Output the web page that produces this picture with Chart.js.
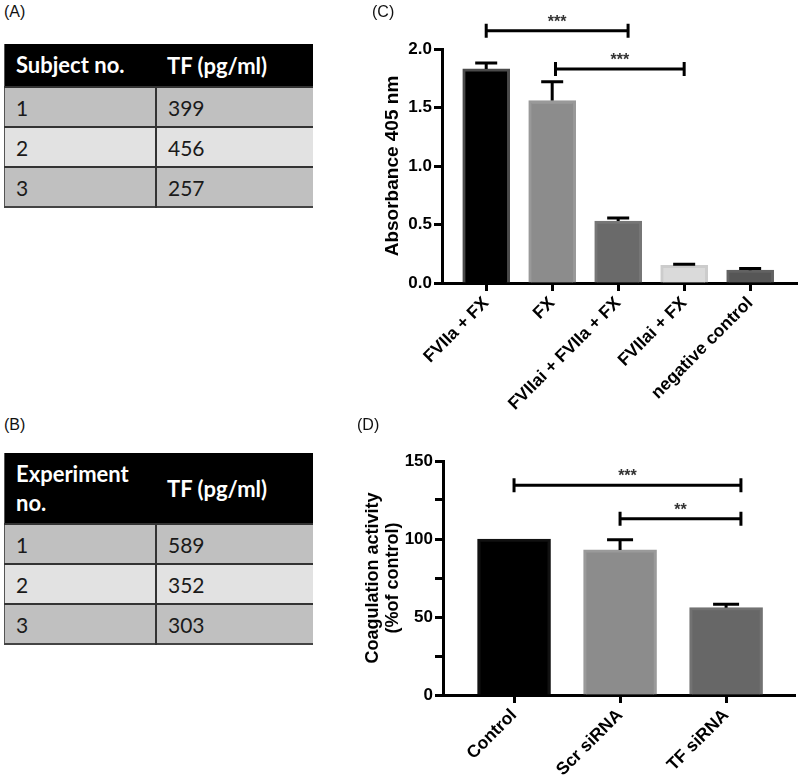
<!DOCTYPE html>
<html lang="en">
<head>
<meta charset="UTF-8">
<title>TF activity panels</title>
<script src="https://cdn.jsdelivr.net/npm/chart.js"></script>
<style>
    body { margin: 0; background: #fff; }
    #page { position: relative; width: 800px; height: 779px; overflow: hidden; font-family: "Liberation Sans", Arial, sans-serif; }
    .panel { position: absolute; font-size: 16px; color: #111; z-index: 2; }
    canvas { position: absolute; }
    table.tf { position: absolute; border-collapse: collapse; font-family: Lato, "Open Sans", sans-serif; font-size: 21px; color: #1a1a1a; border-left: 1px solid #555; border-bottom: 2px solid #444; }
    table.tf th { background: #000; color: #fff; font-weight: 700; font-size: 22px; text-align: left; padding: 0 0 0 11px; }
    table.tf td { padding: 0 0 0 11px; border-top: 2px solid #333; height: 38px; }
    table.tf td:first-child { border-right: 2px solid #333; }
    table.tf tr.light td { background: #e2e2e2; }
    table.tf tr.dark td { background: #c0c0c0; }
</style>
</head>
<body>
<div id="page">
    <div class="panel" style="left:4px;top:3px">(A)</div>
    <div class="panel" style="left:4px;top:416px">(B)</div>
    <div class="panel" style="left:372px;top:3px">(C)</div>
    <div class="panel" style="left:357px;top:416px">(D)</div>

    <table class="tf" id="tableA" style="left:4px;top:44px;width:309px"></table>
    <table class="tf" id="tableB" style="left:4px;top:453px;width:309px"></table>

    <canvas id="chartC" width="430" height="420" style="left:370px;top:0"></canvas>
    <canvas id="chartD" width="445" height="339" style="left:355px;top:440px"></canvas>
</div>
<script>
    // table data
    const subjectNo = ['1', '2', '3'];
    const subjectTF = [399, 456, 257];
    const experimentNo = ['1', '2', '3'];
    const experimentTF = [589, 352, 303];

    // panel C: chromogenic FXa assay
    const assayLabels = ['FVIIa + FX', 'FX', 'FVIIai + FVIIa + FX', 'FVIIai + FX', 'negative control'];
    const assayMeans = [1.83, 1.56, 0.53, 0.15, 0.11];
    const assayErrors = [0.05, 0.16, 0.025, 0.01, 0.015];
    const assaySig = [[0, 2.15, 2.156, '***'], [1.05, 3, 1.83, '***']];

    // panel D: coagulation activity
    const coagLabels = ['Control', 'Scr siRNA', 'TF siRNA'];
    const coagMeans = [100, 93, 56];
    const coagErrors = [0, 6.5, 2.2];
    const coagSig = [[0, 2.14, 134.5, '***'], [1, 2.14, 113, '**']];

    function fillTable(id, head, nos, vals) {
        const t = document.getElementById(id);
        let html = '<tr><th style="width:140px;height:' + head.h + 'px;line-height:' + head.lh + 'px">' + head.a + '</th><th>' + head.b + '</th></tr>';
        nos.forEach((n, i) => {
            html += '<tr class="' + (i % 2 ? 'light' : 'dark') + '"><td>' + n + '</td><td>' + vals[i] + '</td></tr>';
        });
        t.innerHTML = html;
    }
    fillTable('tableA', {a: 'Subject no.', b: 'TF (pg/ml)', h: 42, lh: 24}, subjectNo, subjectTF);
    fillTable('tableB', {a: 'Experiment<br>no.', b: 'TF (pg/ml)', h: 70, lh: 29}, experimentNo, experimentTF);

    Chart.defaults.font.family = '"Liberation Sans", Arial, sans-serif';
    Chart.defaults.color = '#000';

    // error bars + significance brackets
    const errorBars = {
        id: 'errorBars',
        afterDatasetsDraw(chart, args, opts) {
            const {ctx, scales: {x, y}} = chart;
            ctx.save();
            ctx.strokeStyle = '#000';
            ctx.lineWidth = 3;
            opts.means.forEach((m, i) => {
                const e = opts.errors[i];
                if (!e) return;
                const px = x.getPixelForValue(i);
                const y0 = y.getPixelForValue(m);
                const y1 = y.getPixelForValue(m + e);
                ctx.beginPath();
                ctx.moveTo(px, y0);
                ctx.lineTo(px, y1);
                ctx.moveTo(px - opts.cap, y1);
                ctx.lineTo(px + opts.cap, y1);
                ctx.stroke();
            });
            ctx.fillStyle = '#333';
            ctx.font = 'bold 16px "Liberation Sans", Arial, sans-serif';
            ctx.textAlign = 'center';
            opts.brackets.forEach(b => {
                const x1 = x.getPixelForValue(b[0]);
                const x2 = x.getPixelForValue(b[1]);
                const yy = y.getPixelForValue(b[2]);
                ctx.beginPath();
                ctx.moveTo(x1, yy - 7); ctx.lineTo(x1, yy + 7);
                ctx.moveTo(x1, yy); ctx.lineTo(x2, yy);
                ctx.moveTo(x2, yy - 7); ctx.lineTo(x2, yy + 7);
                ctx.stroke();
                ctx.fillText(b[3], (x1 + x2) / 2, yy - 4);
            });
            ctx.restore();
        }
    };

    function barChart(id, cfg) {
        return new Chart(document.getElementById(id), {
            type: 'bar',
            data: {
                datasets: [{
                    data: cfg.means.map((v, i) => ({x: i, y: v})),
                    backgroundColor: cfg.fills,
                    borderColor: cfg.borders,
                    borderWidth: 3,
                    barThickness: cfg.barWidth
                }]
            },
            plugins: [errorBars],
            options: {
                responsive: false,
                animation: false,
                layout: {padding: cfg.padding},
                plugins: {
                    legend: {display: false},
                    tooltip: {enabled: false},
                    errorBars: {means: cfg.means, errors: cfg.errors, cap: cfg.cap, brackets: cfg.brackets}
                },
                scales: {
                    x: {
                        type: 'linear',
                        offset: false,
                        bounds: 'data',
                        min: cfg.xMin,
                        max: cfg.xMax,
                        afterBuildTicks: s => { s.ticks = cfg.labels.map((_, i) => ({value: i})); },
                        afterFit: s => {
                            s.height = cfg.xHeight;
                            s.paddingLeft = 0;
                            s.paddingRight = 0;
                        },
                        ticks: {
                            autoSkip: false,
                            maxRotation: 45,
                            minRotation: 45,
                            padding: 2,
                            font: {size: 17.5, weight: 'bold'},
                            callback: v => cfg.labels[v]
                        },
                        grid: {offset: false, drawOnChartArea: false, tickLength: 8, tickWidth: 3, tickColor: '#000'},
                        border: {width: 3, color: '#000'}
                    },
                    y: {
                        min: 0,
                        max: cfg.yMax,
                        afterFit: s => {
                            s.width = cfg.yWidth;
                            s.paddingTop = 0;
                            s.paddingBottom = 0;
                        },
                        ticks: {
                            stepSize: cfg.yStep,
                            padding: 2,
                            font: {size: 17, weight: 'bold'},
                            callback: cfg.yFormat
                        },
                        grid: {drawOnChartArea: false, tickLength: 8, tickWidth: 3, tickColor: '#000'},
                        border: {width: 3, color: '#000'},
                        title: {
                            display: true,
                            text: cfg.yTitle,
                            font: {size: cfg.titleSize, weight: 'bold', lineHeight: 1.1},
                            padding: {top: cfg.titlePad, bottom: 0}
                        }
                    }
                }
            }
        });
    }

    barChart('chartC', {
        labels: assayLabels,
        means: assayMeans,
        errors: assayErrors,
        brackets: assaySig,
        fills: ['#000000', '#8c8c8c', '#6a6a6a', '#dadada', '#565656'],
        borders: ['#4a4a4a', '#999999', '#767676', '#cccccc', '#626262'],
        barWidth: 47,
        cap: 11,
        xMin: -0.67,
        xMax: 4.71,
        yMax: 2,
        yStep: 0.5,
        yFormat: v => v.toFixed(1),
        yTitle: 'Absorbance 405 nm',
        titleSize: 19,
        titlePad: 12,
        yWidth: 72,
        xHeight: 137,
        padding: {top: 49, right: 3, left: 0, bottom: 0}
    });

    barChart('chartD', {
        labels: coagLabels,
        means: coagMeans,
        errors: coagErrors,
        brackets: coagSig,
        fills: ['#000000', '#8c8c8c', '#676767'],
        borders: ['#111111', '#9a9a9a', '#727272'],
        barWidth: 73,
        cap: 13,
        xMin: -0.67,
        xMax: 2.65,
        yMax: 150,
        yStep: 25,
        yFormat: v => (v % 50 === 0 ? v : ''),
        yTitle: ['Coagulation activity', '(%of control)'],
        titleSize: 18,
        titlePad: 8,
        yWidth: 88,
        xHeight: 84,
        padding: {top: 21, right: 5, left: 0, bottom: 0}
    });
</script>
</body>
</html>
